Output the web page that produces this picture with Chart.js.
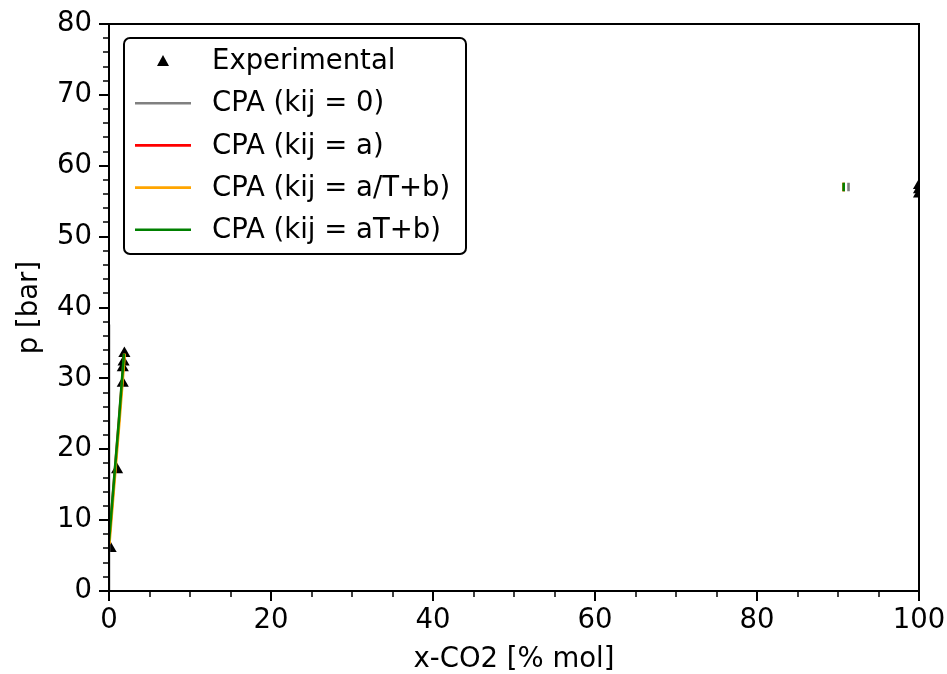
<!DOCTYPE html>
<html>
<head>
<meta charset="utf-8">
<script src="https://cdn.jsdelivr.net/npm/chart.js@4"></script>
<style>
  html, body { margin: 0; padding: 0; background: #fff; }
  #wrap { width: 947px; height: 674px; }
</style>
</head>
<body>
<div id="wrap"><canvas id="chart-vle" width="947" height="674"></canvas></div>
<script>
// experimental points (x-CO2 % mol, p bar)
const expX = [0.2, 1.0, 1.7, 1.7, 1.8, 1.9, 100, 100, 100];
const expP = [6.0, 17.1, 29.3, 31.5, 32.3, 33.5, 56.0, 56.6, 57.2];

// model curves (two branches: low x and high x)
const kij0X = [0, 0, 91.3, 91.3];
const kij0P = [0, 37.6, 56.4, 57.6];

const kijAX = [0.0, 0.6, 1.2, 1.88, 90.7, 90.7];
const kijAP = [6.8, 15.2, 23.6, 33.5, 56.4, 57.6];

const kijATbX = [0.05, 0.65, 1.27, 1.95, 90.7, 90.7];
const kijATbP = [6.6, 15.0, 23.6, 33.5, 56.4, 57.6];

const kijaTbX = [0.0, 0.6, 1.2, 1.85, 90.7, 90.7];
const kijaTbP = [7.0, 15.4, 23.8, 33.5, 56.4, 57.6];

const xTicks = [0, 20, 40, 60, 80, 100];
const yTicks = [0, 10, 20, 30, 40, 50, 60, 70, 80];

const FONT = "'DejaVu Sans', sans-serif";
const FS = 27.5;

// builds {x,y} pairs, inserting a gap between the low-x branch and the high-x branch
function pts(xs, ys) {
  const out = [];
  for (let i = 0; i < xs.length; i++) {
    if (i > 0 && xs[i] - xs[i - 1] > 50) out.push({ x: (xs[i] + xs[i - 1]) / 2, y: null });
    out.push({ x: xs[i], y: ys[i] });
  }
  return out;
}

function lineSet(label, color, xs, ys, order) {
  return {
    type: "line",
    label,
    data: pts(xs, ys),
    borderColor: color,
    backgroundColor: color,
    borderWidth: 2.6,
    pointRadius: 0,
    spanGaps: false,
    order,
  };
}

// ticks (major + minor) and the full frame, matplotlib style
const framePlugin = {
  id: "frame",
  afterDatasetsDraw(chart) {
    const { ctx, chartArea: a, scales: { x, y } } = chart;
    ctx.save();
    ctx.strokeStyle = "#000";
    for (let v = 0; v <= 100; v += 5) {
      const px = Math.round(x.getPixelForValue(v));
      const major = v % 20 === 0;
      ctx.lineWidth = major ? 2 : 1.5;
      ctx.beginPath();
      ctx.moveTo(px, a.bottom);
      ctx.lineTo(px, a.bottom + (major ? 10 : 6));
      ctx.stroke();
    }
    for (let v = 0; v <= 80; v += 2) {
      const py = Math.round(y.getPixelForValue(v));
      const major = v % 10 === 0;
      ctx.lineWidth = major ? 2 : 1.5;
      ctx.beginPath();
      ctx.moveTo(a.left, py);
      ctx.lineTo(a.left - (major ? 10 : 6), py);
      ctx.stroke();
    }
    ctx.lineWidth = 2;
    ctx.strokeRect(a.left, a.top, a.right - a.left, a.bottom - a.top);
    ctx.restore();
  },
};

// legend in a rounded box, upper left
const legendBox = {
  id: "legendBox",
  afterDraw(chart) {
    const { ctx } = chart;
    const bx = 124, by = 38, bw = 342, bh = 216;
    ctx.save();
    ctx.fillStyle = "#fff";
    ctx.strokeStyle = "#000";
    ctx.lineWidth = 2;
    ctx.beginPath();
    ctx.roundRect(bx, by, bw, bh, 6);
    ctx.fill();
    ctx.stroke();
    ctx.font = FS + "px " + FONT;
    ctx.textBaseline = "middle";
    chart.data.datasets.forEach((ds, i) => {
      const cy = 61 + i * 42.2;
      if (ds.type === "scatter") {
        ctx.fillStyle = "#000";
        ctx.beginPath();
        ctx.moveTo(163, cy - 6);
        ctx.lineTo(169, cy + 5);
        ctx.lineTo(157, cy + 5);
        ctx.closePath();
        ctx.fill();
      } else {
        ctx.strokeStyle = ds.borderColor;
        ctx.lineWidth = 2.6;
        ctx.beginPath();
        ctx.moveTo(135, cy);
        ctx.lineTo(191, cy);
        ctx.stroke();
      }
      ctx.fillStyle = "#000";
      ctx.fillText(ds.label, 212, cy + 1);
    });
    ctx.restore();
  },
};

const ctx = document.getElementById("chart-vle").getContext("2d");

new Chart(ctx, {
  data: {
    datasets: [
      {
        type: "scatter",
        label: "Experimental",
        data: expX.map((x, i) => ({ x, y: expP[i] })),
        pointStyle: "triangle",
        pointRadius: 7,
        pointBackgroundColor: "#000",
        pointBorderColor: "#000",
        pointBorderWidth: 0,
        clip: 0,
        order: 5,
      },
      lineSet("CPA (kij = 0)", "#808080", kij0X, kij0P, 3),
      lineSet("CPA (kij = a)", "#ff0000", kijAX, kijAP, 2),
      lineSet("CPA (kij = a/T+b)", "#ffa500", kijATbX, kijATbP, 1),
      lineSet("CPA (kij = aT+b)", "#008000", kijaTbX, kijaTbP, 0),
    ],
  },
  options: {
    responsive: false,
    animation: false,
    events: [],
    layout: { padding: { top: 24, right: 28, left: 0, bottom: 0 } },
    plugins: {
      legend: { display: false },
      tooltip: { enabled: false },
    },
    scales: {
      x: {
        type: "linear",
        min: 0,
        max: 100,
        afterFit: (s) => { s.height = 83; s.paddingLeft = 0; s.paddingRight = 0; },
        afterBuildTicks: (s) => { s.ticks = xTicks.map((v) => ({ value: v })); },
        grid: { display: false, drawTicks: false },
        border: { display: false },
        ticks: { color: "#000", padding: 16, maxRotation: 0, font: { family: FONT, size: FS, lineHeight: 1 } },
        title: {
          display: true,
          text: "x-CO2 [% mol]",
          color: "#000",
          padding: { top: 0, bottom: 0 },
          font: { family: FONT, size: FS, lineHeight: 1 },
        },
      },
      y: {
        type: "linear",
        min: 0,
        max: 80,
        afterFit: (s) => { s.width = 109; s.paddingTop = 0; s.paddingBottom = 0; },
        afterBuildTicks: (s) => { s.ticks = yTicks.map((v) => ({ value: v })); },
        grid: { display: false, drawTicks: false },
        border: { display: false },
        ticks: { color: "#000", padding: 17, font: { family: FONT, size: FS, lineHeight: 1 } },
        title: {
          display: true,
          text: "p [bar]",
          color: "#000",
          padding: { top: 16, bottom: 0 },
          font: { family: FONT, size: FS, lineHeight: 1 },
        },
      },
    },
  },
  plugins: [framePlugin, legendBox],
});
</script>
</body>
</html>
